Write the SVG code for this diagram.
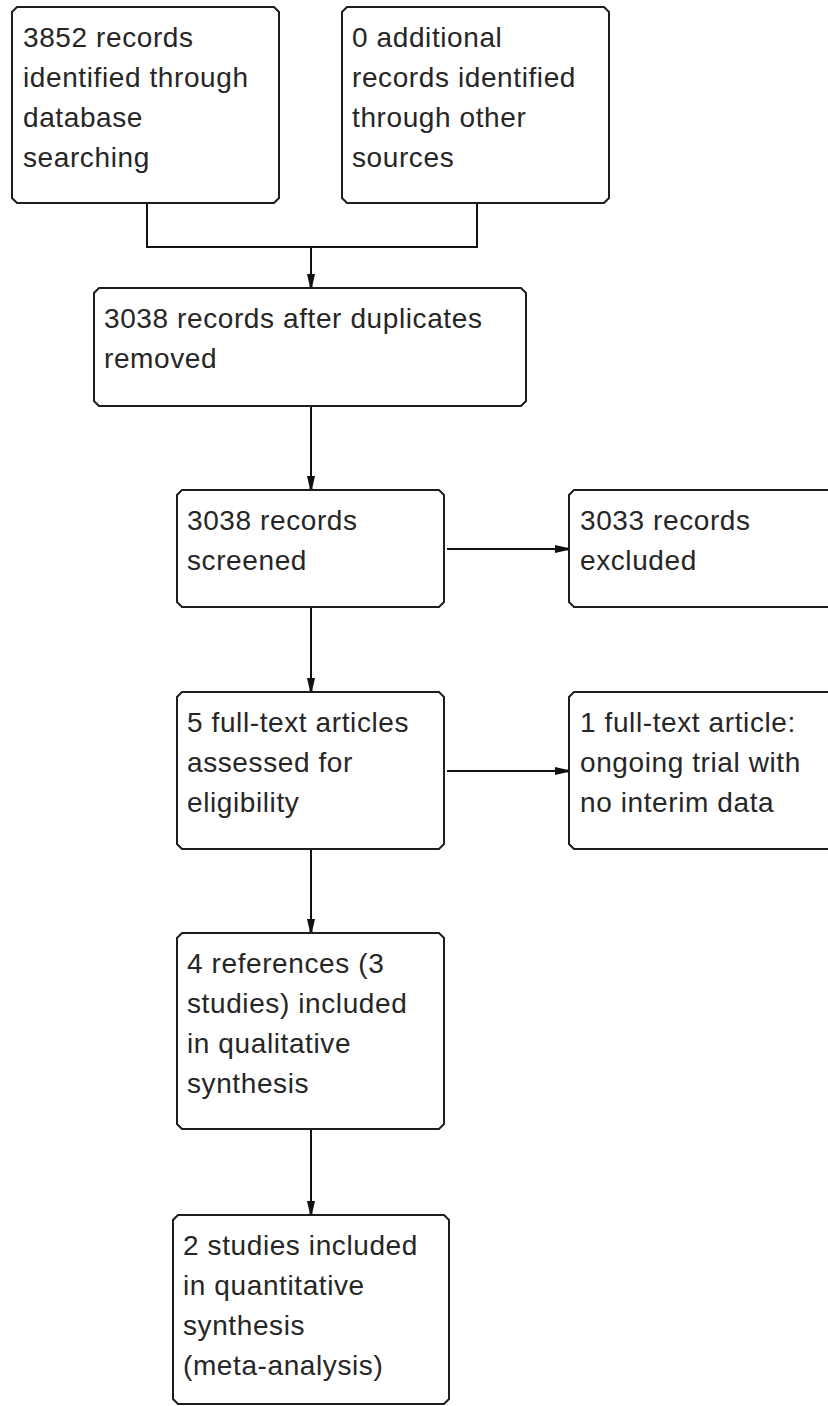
<svg xmlns="http://www.w3.org/2000/svg" width="828" height="1406" viewBox="0 0 828 1406">
<style>
.box{fill:#fff;stroke:#1e1e1e;stroke-width:2}
.t{font-family:"Liberation Sans",Arial,sans-serif;font-size:28px;letter-spacing:0.6px;fill:#262626}
.c{fill:none;stroke:#111;stroke-width:2}
</style>
<defs>
<marker id="ah" markerUnits="userSpaceOnUse" markerWidth="14" markerHeight="9" viewBox="0 0 14 9" refX="14" refY="4.5" orient="auto">
<path d="M0,0.5 L11,3 L14,3 L14,6 L11,6 L0,8.5 Z" fill="#111"/>
</marker>
</defs>
<g id="connectors">
<polyline class="c" points="147,203 147,247 477,247 477,203"/>
<line class="c" x1="311" y1="247" x2="311" y2="288" marker-end="url(#ah)"/>
<line class="c" x1="311" y1="406" x2="311" y2="490" marker-end="url(#ah)"/>
<line class="c" x1="447" y1="549" x2="569" y2="549" marker-end="url(#ah)"/>
<line class="c" x1="311" y1="607" x2="311" y2="692" marker-end="url(#ah)"/>
<line class="c" x1="447" y1="771" x2="569" y2="771" marker-end="url(#ah)"/>
<line class="c" x1="311" y1="849" x2="311" y2="933" marker-end="url(#ah)"/>
<line class="c" x1="311" y1="1129" x2="311" y2="1215" marker-end="url(#ah)"/>
</g>
<g id="n1">
<path class="box" d="M17,7 H274 L279,12 V198 L274,203 H17 L12,198 V12 Z"/>
<text class="t" x="23" y="47">3852 records</text>
<text class="t" x="23" y="87">identified through</text>
<text class="t" x="23" y="127">database</text>
<text class="t" x="23" y="167">searching</text>
</g>
<g id="n2">
<path class="box" d="M347,7 H604 L609,12 V198 L604,203 H347 L342,198 V12 Z"/>
<text class="t" x="352" y="47">0 additional</text>
<text class="t" x="352" y="87">records identified</text>
<text class="t" x="352" y="127">through other</text>
<text class="t" x="352" y="167">sources</text>
</g>
<g id="n3">
<path class="box" d="M99,288 H521 L526,293 V401 L521,406 H99 L94,401 V293 Z"/>
<text class="t" x="104" y="328">3038 records after duplicates</text>
<text class="t" x="104" y="368">removed</text>
</g>
<g id="n4">
<path class="box" d="M182,490 H439 L444,495 V602 L439,607 H182 L177,602 V495 Z"/>
<text class="t" x="187" y="530">3038 records</text>
<text class="t" x="187" y="570">screened</text>
</g>
<g id="n5">
<path class="box" d="M574,490 H840 V607 H574 L569,602 V495 Z"/>
<text class="t" x="580" y="530">3033 records</text>
<text class="t" x="580" y="570">excluded</text>
</g>
<g id="n6">
<path class="box" d="M182,692 H439 L444,697 V844 L439,849 H182 L177,844 V697 Z"/>
<text class="t" x="187" y="732">5 full-text articles</text>
<text class="t" x="187" y="772">assessed for</text>
<text class="t" x="187" y="812">eligibility</text>
</g>
<g id="n7">
<path class="box" d="M574,692 H840 V849 H574 L569,844 V697 Z"/>
<text class="t" x="580" y="732">1 full-text article:</text>
<text class="t" x="580" y="772">ongoing trial with</text>
<text class="t" x="580" y="812">no interim data</text>
</g>
<g id="n8">
<path class="box" d="M182,933 H439 L444,938 V1124 L439,1129 H182 L177,1124 V938 Z"/>
<text class="t" x="187" y="973">4 references (3</text>
<text class="t" x="187" y="1013">studies) included</text>
<text class="t" x="187" y="1053">in qualitative</text>
<text class="t" x="187" y="1093">synthesis</text>
</g>
<g id="n9">
<path class="box" d="M178,1215 H444 L449,1220 V1399 L444,1404 H178 L173,1399 V1220 Z"/>
<text class="t" x="183" y="1255">2 studies included</text>
<text class="t" x="183" y="1295">in quantitative</text>
<text class="t" x="183" y="1335">synthesis</text>
<text class="t" x="183" y="1375">(meta-analysis)</text>
</g>
</svg>
